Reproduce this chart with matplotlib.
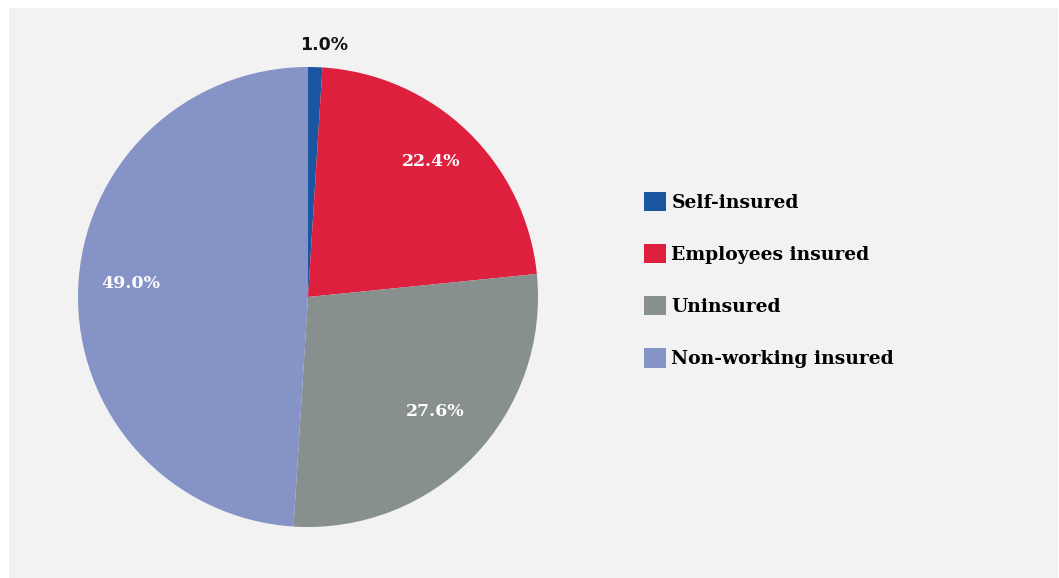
import numpy as np
import matplotlib
matplotlib.use("Agg")
import matplotlib.pyplot as plt
import matplotlib.transforms as mtransforms
from matplotlib.patches import Rectangle, Patch

categories = ["Self-insured", "Employees insured", "Uninsured", "Non-working insured"]
shares = [1.0, 22.4, 27.6, 49.0]
colors = ["#1a56a0", "#de1f3e", "#87908f", "#8593c6"]

W, H = 1059, 578
fig = plt.figure(figsize=(W / 100, H / 100), dpi=100)
fig.patch.set_facecolor("white")
# grey panel
fig.patches.append(Rectangle((9 / W, 0), 1 - 10 / W, 1 - 8 / H,
                             transform=fig.transFigure, facecolor="#f2f2f2",
                             edgecolor="none", zorder=-1))

cx, cy, r = 308, 297, 230
ax = fig.add_axes([(cx - r) / W, (H - cy - r) / H, 2 * r / W, 2 * r / H])
wedges, texts, autotexts = ax.pie(shares, colors=colors, startangle=90, counterclock=False,
                                  autopct="%.1f%%", pctdistance=0.77,
                                  wedgeprops=dict(linewidth=0))
ax.set_aspect("equal")
ax.set_xlim(-1, 1)
ax.set_ylim(-1, 1)

# labels sit a bit higher than the centre point
shift = mtransforms.ScaledTranslation(0, 6 / 72, fig.dpi_scale_trans)
for i, t in enumerate(autotexts):
    t.set_color("white")
    t.set_fontfamily("DejaVu Serif")
    t.set_fontweight("bold")
    t.set_fontsize(12.5)
    t.set_transform(t.get_transform() + shift)

# small slice label sits outside
w = wedges[0]
mid = np.deg2rad((w.theta1 + w.theta2) / 2 - 2)
autotexts[0].set_position((1.06 * np.cos(mid), 1.06 * np.sin(mid)))
autotexts[0].set_color("#111111")
autotexts[0].set_fontfamily("DejaVu Sans")
autotexts[0].set_fontsize(12.5)

handles = [Patch(facecolor=c, edgecolor="none") for c in colors]
leg = fig.legend(handles, categories, loc="upper left",
                 bbox_to_anchor=(627 / W, 1 - 175 / H),
                 frameon=False, handlelength=1.2, handleheight=1.2,
                 handletextpad=0.27, labelspacing=1.72,
                 prop=dict(family="DejaVu Serif", weight="bold", size=13.5))

fig.savefig("out.png", dpi=100)
